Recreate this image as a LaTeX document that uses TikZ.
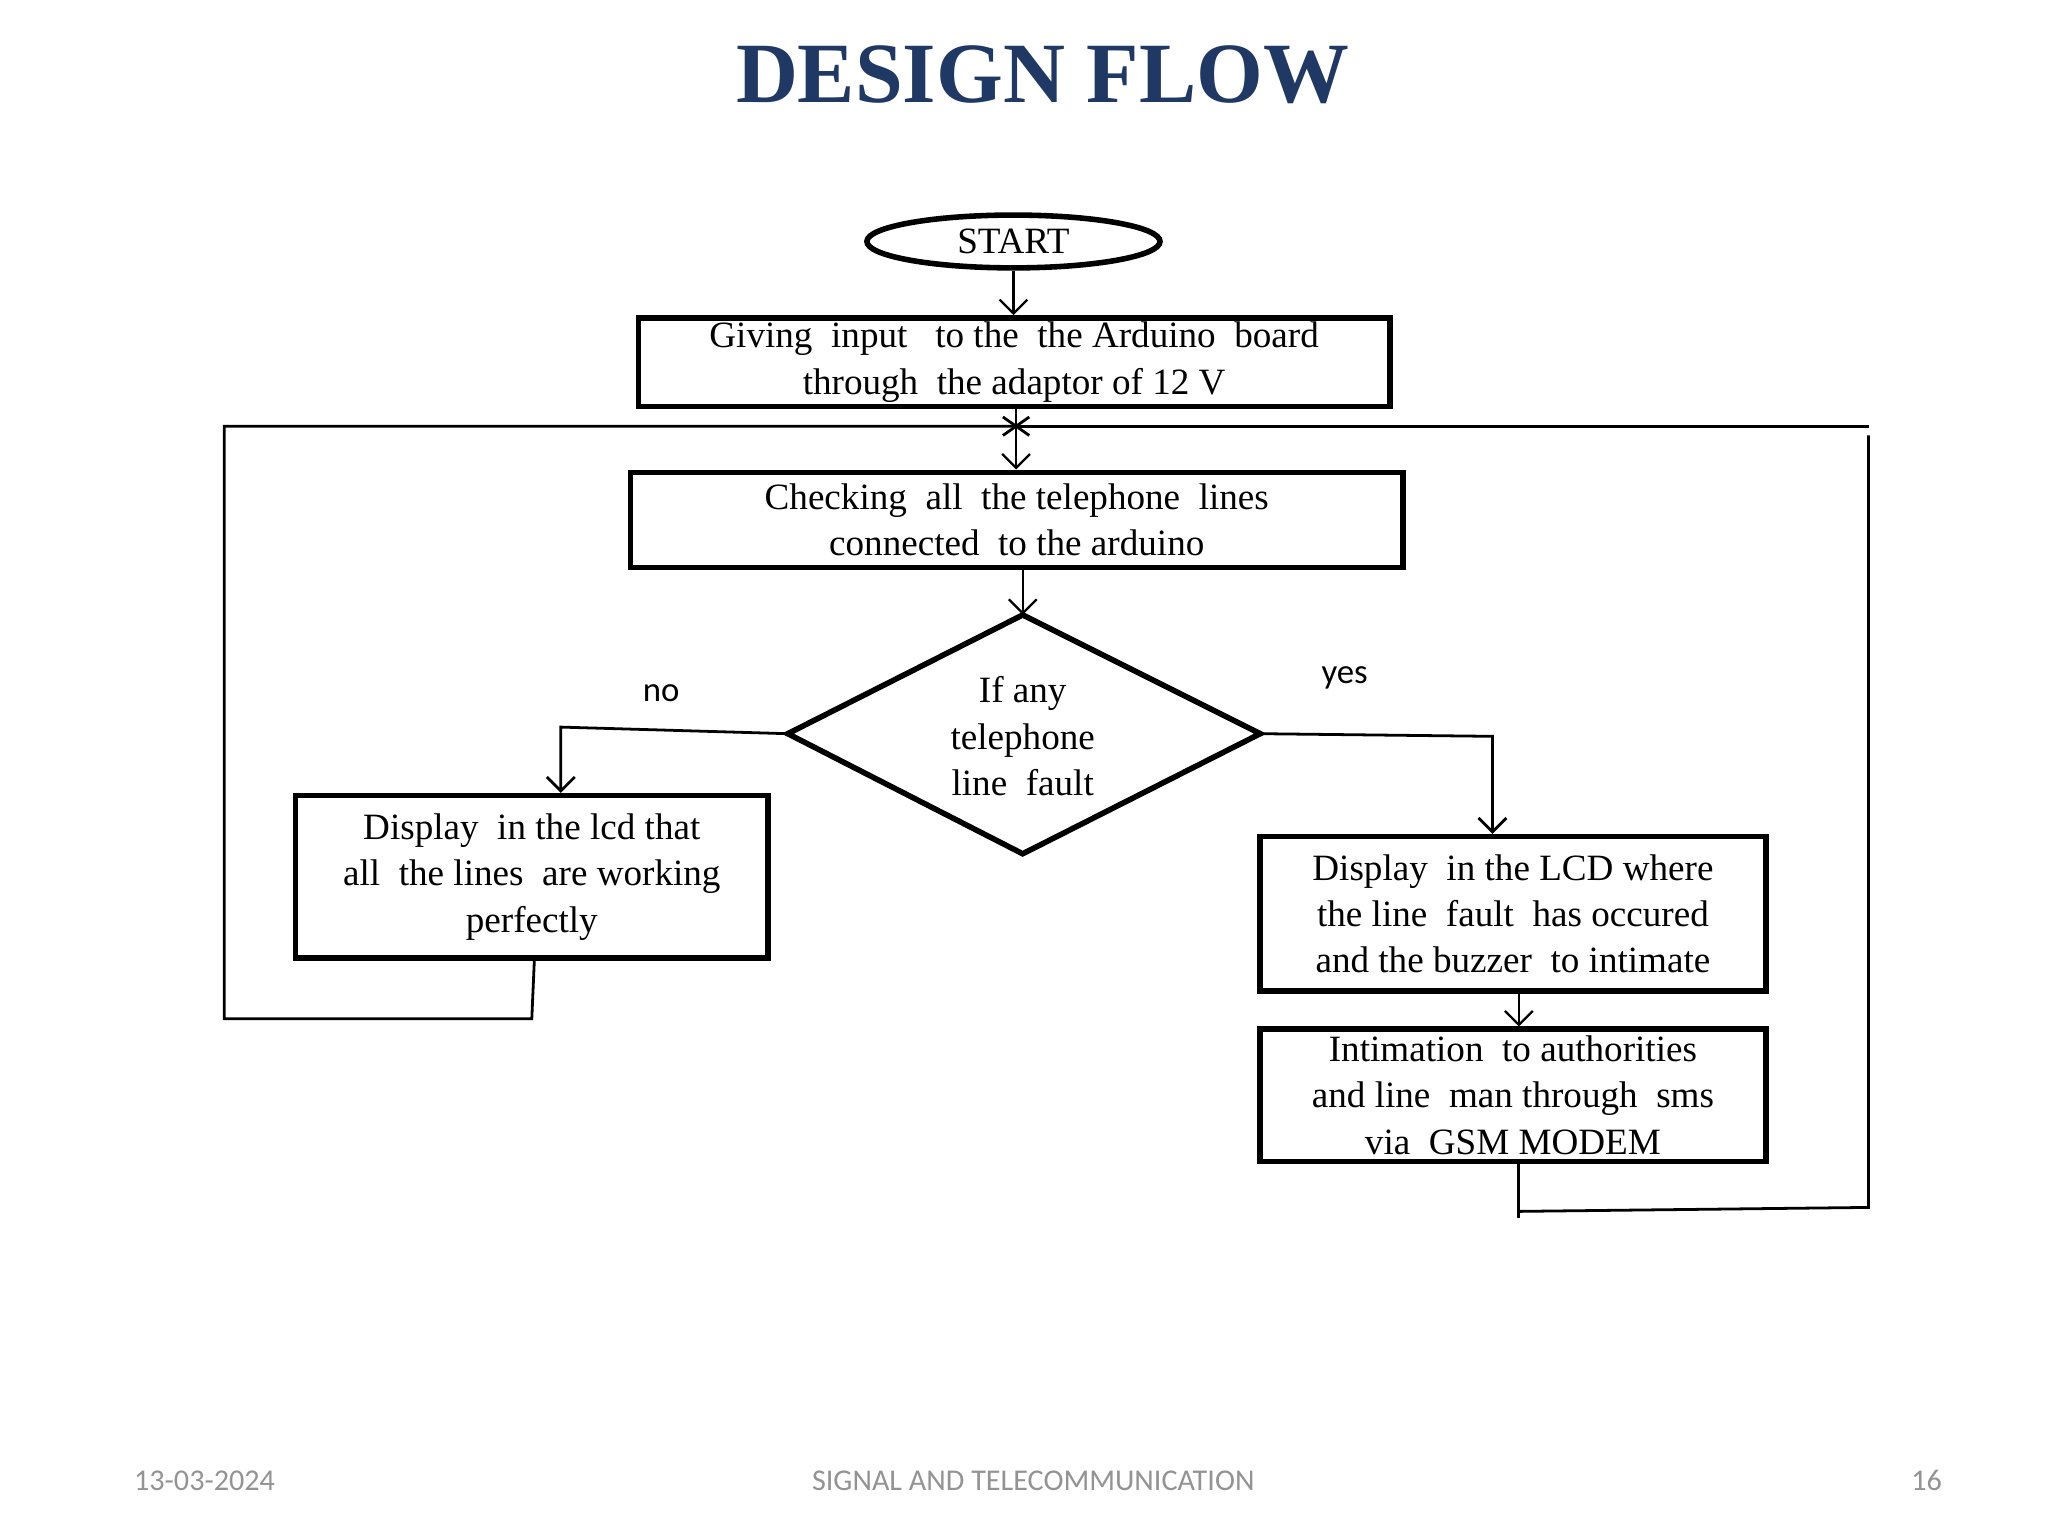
\documentclass[tikz,border=0pt]{standalone}
\usepackage{fontspec}
\setmainfont{Liberation Serif}
\newfontfamily\footfont{Carlito}
\usetikzlibrary{shapes.geometric, arrows.meta}
\definecolor{titleblue}{HTML}{1F3864}
\begin{document}
\begin{tikzpicture}[x=0.01cm, y=-0.01cm,
    box/.style={draw, line width=1.2pt, inner sep=0pt, align=center, font=\fontsize{8}{10}\selectfont},
    lbl/.style={font=\footfont\fontsize{7.5}{9}\selectfont},
    foot/.style={font=\footfont\fontsize{6.5}{8}\selectfont, text=gray!85},
    arr/.style={-{Straight Barb[length=3pt]}, line width=0.5pt},
    ln/.style={line width=0.6pt}
  ]
  \useasboundingbox (0,0) rectangle (1552,1164);
  \node[font=\bfseries\fontsize{18.5}{22}\selectfont, text=titleblue] (title) at (790,57) {DESIGN FLOW};

  \node[draw, ellipse, line width=1.2pt, minimum width=2.22cm, minimum height=0.4cm, inner sep=0pt, font=\fontsize{8}{10}\selectfont] (start) at (768,183) {START};
  \node[box, minimum width=5.69cm, minimum height=0.67cm] (input) at (768.5,274.5) {Giving \ input \ \ to the \ the Arduino \ board\\through \ the adaptor of 12 V};
  \node[box, minimum width=5.85cm, minimum height=0.72cm] (check) at (770.5,394) {Checking \ all \ the telephone \ lines\\connected \ to the arduino};

  % decision diamond drawn as a polygon
  \coordinate (dtop) at (775,466);
  \coordinate (dleft) at (597,556);
  \coordinate (dright) at (955,556);
  \coordinate (dbot) at (775,647);
  \draw[line width=1.2pt] (dtop) -- (dright) -- (dbot) -- (dleft) -- cycle;
  \node[align=center, font=\fontsize{8}{10}\selectfont] (fault) at (775,558) {If any\\telephone\\line \ fault};

  \node[box, minimum width=3.58cm, minimum height=1.23cm] (ok) at (403,664.5) {Display \ in the lcd that\\all \ the lines \ are working\\perfectly};
  \node[box, minimum width=3.83cm, minimum height=1.17cm] (lcd) at (1146.5,692.5) {Display \ in the LCD where\\the line \ fault \ has occured\\and the buzzer \ to intimate};
  \node[box, minimum width=3.83cm, minimum height=1.0cm] (sms) at (1146.5,830) {Intimation \ to authorities\\and line \ man through \ sms\\via \ GSM MODEM};

  \coordinate (join) at (770,323);
  \node[lbl] (no) at (501,525) {no};
  \node[lbl] (yes) at (1019,514) {yes};

  \draw[arr] (start) -- (start |- input.north);
  \draw[arr] (input.south -| join) -- (check.north -| join);
  \draw[arr] (check.south -| dtop) -- (dtop);
  \draw[arr, ln] (dleft) -- (425,551) -- (ok.north -| 425,0);
  \draw[arr, ln] (dright) -- (1131,558) -- (lcd.north -| 1131,0);
  \draw[arr] (lcd.south -| 1151,0) -- (sms.north -| 1151,0);
  \draw[ln] (405,726) -- (403,772) -- (170,772) -- (170,323) -- (join);
  \draw[ln] (sms.south -| 1151,0) -- (1151,923);
  \draw[ln] (1151,918) -- (1416,915) -- (1416,330);
  \draw[ln] (join) -- (1416,323);
  \draw[ln] (760,316) -- (780,330) (760,330) -- (780,316);

  \node[foot] (date) at (155,1122) {13-03-2024};
  \node[foot] (ft) at (783,1122) {SIGNAL AND TELECOMMUNICATION};
  \node[foot] (pg) at (1460,1122) {16};
\end{tikzpicture}
\end{document}
